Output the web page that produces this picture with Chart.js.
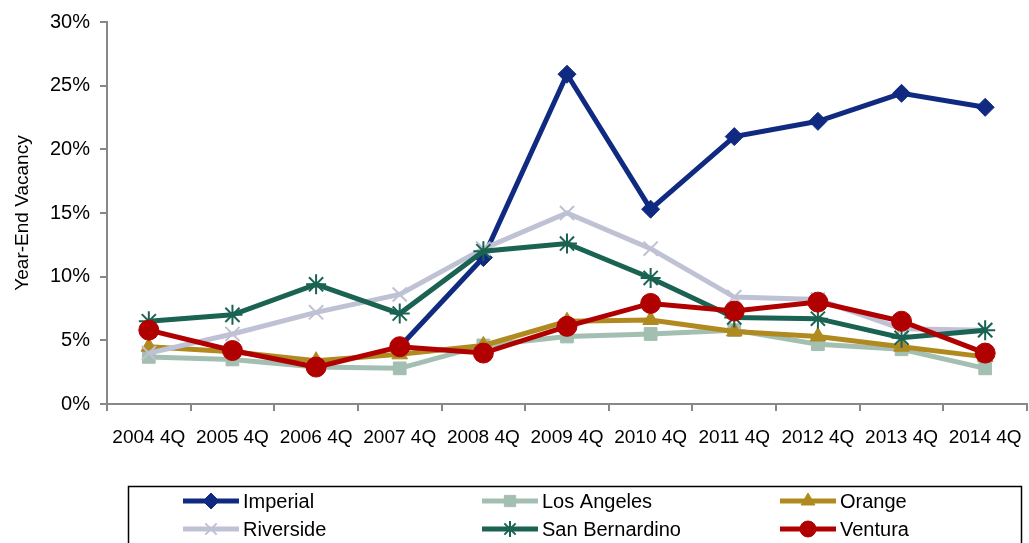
<!DOCTYPE html>
<html>
<head>
<meta charset="utf-8">
<script src="https://cdn.jsdelivr.net/npm/chart.js@4"></script>
<style>
  html, body { margin: 0; padding: 0; background: #fff; overflow: hidden; }
  canvas { display: block; }
</style>
</head>
<body>
<canvas id="c" width="1029" height="543"></canvas>
<script>
// categories and series values (percent)
const quarters = ['2004 4Q', '2005 4Q', '2006 4Q', '2007 4Q', '2008 4Q', '2009 4Q',
                  '2010 4Q', '2011 4Q', '2012 4Q', '2013 4Q', '2014 4Q'];
const imperial = [null, null, null, 4.5, 11.5, 25.9, 15.3, 21.0, 22.2, 24.4, 23.3];
const losAngeles = [3.7, 3.5, 2.9, 2.8, 4.6, 5.3, 5.5, 5.8, 4.7, 4.3, 2.8];
const orange = [4.5, 4.1, 3.4, 3.9, 4.6, 6.5, 6.6, 5.7, 5.3, 4.5, 3.7];
const riverside = [4.0, 5.5, 7.2, 8.6, 12.2, 15.0, 12.2, 8.4, 8.2, 5.9, 5.8];
const sanBernardino = [6.5, 7.0, 9.4, 7.1, 12.0, 12.6, 9.9, 6.8, 6.7, 5.2, 5.8];
const ventura = [5.8, 4.2, 2.9, 4.5, 4.0, 6.1, 7.9, 7.3, 8.0, 6.5, 4.0];
const yTicks = [0, 5, 10, 15, 20, 25, 30];

const FONT = '"Liberation Sans", Arial, sans-serif';

function series(label, data, color, style, radius) {
  return {
    label: label,
    data: data,
    borderColor: color,
    backgroundColor: color,
    pointBackgroundColor: color,
    pointBorderColor: color,
    borderWidth: 5,
    pointStyle: style,
    pointRadius: radius,
    pointBorderWidth: (style === 'crossRot' || style === 'star') ? 2 : 1,
    tension: 0,
    spanGaps: false
  };
}

const datasets = [
  series('Imperial', imperial, '#0f2a80', 'rectRot', 9),
  series('Los Angeles', losAngeles, '#a3bfb1', 'rect', 9),
  series('Orange', orange, '#b0891f', 'triangle', 9),
  series('Riverside', riverside, '#bfc1d4', 'crossRot', 10),
  series('San Bernardino', sanBernardino, '#1a6352', 'star', 10),
  series('Ventura', ventura, '#b00000', 'circle', 10)
];
// later series drawn on top, like the original
datasets.forEach((d, i) => { d.order = datasets.length - i; });

// legend box drawn on the canvas, three columns, two rows
const boxLegend = {
  id: 'boxLegend',
  afterDraw(chart) {
    const ctx = chart.ctx;
    ctx.save();
    ctx.strokeStyle = '#000';
    ctx.lineWidth = 1.5;
    ctx.strokeRect(128.5, 486.5, 893, 70);
    const cols = [183, 482, 780];
    const rows = [501, 529];
    chart.data.datasets.forEach((ds, i) => {
      const x = cols[i % 3], y = rows[Math.floor(i / 3)];
      ctx.strokeStyle = ds.borderColor;
      ctx.fillStyle = ds.borderColor;
      ctx.lineWidth = 5;
      ctx.beginPath();
      ctx.moveTo(x, y);
      ctx.lineTo(x + 56, y);
      ctx.stroke();
      ctx.lineWidth = ds.pointBorderWidth;
      Chart.helpers.drawPoint(ctx, {
        pointStyle: ds.pointStyle, radius: 8, borderWidth: ds.pointBorderWidth
      }, x + 28, y);
      ctx.fillStyle = '#000';
      ctx.font = '20px ' + FONT;
      ctx.textBaseline = 'middle';
      ctx.textAlign = 'left';
      ctx.fillText(ds.label, x + 60, y + 1);
    });
    ctx.restore();
  }
};

new Chart(document.getElementById('c'), {
  type: 'line',
  data: { labels: quarters, datasets: datasets },
  options: {
    responsive: false,
    animation: false,
    // no automatic room for point markers, the plot runs to the right edge
    layout: { autoPadding: false, padding: { top: 19, right: 2, left: 0, bottom: 0 } },
    plugins: {
      legend: { display: false },
      tooltip: { enabled: false }
    },
    scales: {
      x: {
        offset: true,
        afterFit: s => { s.height = 139; },
        grid: {
          offset: true,
          drawOnChartArea: false,
          drawTicks: true,
          tickLength: 7,
          color: '#888',
          lineWidth: 2
        },
        border: { color: '#888', width: 2 },
        ticks: {
          color: '#000',
          padding: 4,
          maxRotation: 0,
          autoSkip: false,
          // tall line height pushes the labels down without adding side padding
          font: { family: FONT, size: 19, lineHeight: 2.36 }
        }
      },
      y: {
        min: 0,
        max: 30,
        afterFit: s => { s.width = 107; },
        afterBuildTicks: s => { s.ticks = yTicks.map(v => ({ value: v })); },
        grid: {
          drawOnChartArea: false,
          drawTicks: true,
          tickLength: 7,
          color: '#888',
          lineWidth: 2
        },
        border: { color: '#888', width: 2 },
        title: {
          display: true,
          text: 'Year-End Vacancy',
          color: '#000',
          padding: { top: 11, bottom: 0 },
          font: { family: FONT, size: 19 }
        },
        ticks: {
          color: '#000',
          padding: 10,
          callback: v => v + '%',
          font: { family: FONT, size: 20 }
        }
      }
    }
  },
  plugins: [boxLegend]
});
</script>
</body>
</html>
